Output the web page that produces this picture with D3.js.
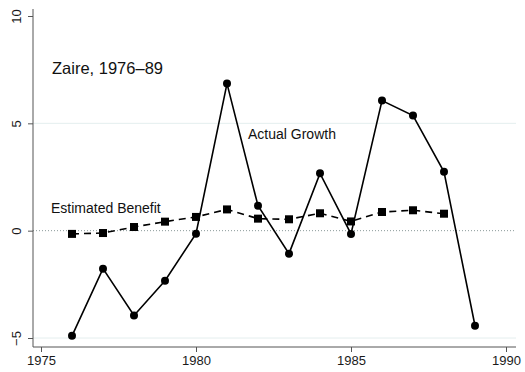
<!DOCTYPE html>
<html>
<head>
<meta charset="utf-8">
<script src="https://cdn.jsdelivr.net/npm/d3@7"></script>
<style>
  html, body { margin: 0; padding: 0; background: #fff; }
  svg { display: block; font-family: Arial, "Liberation Sans", sans-serif; }
</style>
</head>
<body>
<svg id="chart" width="525" height="372"></svg>
<script>
// Zaire: actual growth vs. estimated benefit, 1976–89
const years = [1976, 1977, 1978, 1979, 1980, 1981, 1982, 1983, 1984, 1985, 1986, 1987, 1988, 1989];
const actualGrowth = [-4.9, -1.77, -3.95, -2.33, -0.14, 6.85, 1.16, -1.07, 2.67, -0.15, 6.06, 5.36, 2.74, -4.43];
const benefitYears = [1976, 1977, 1978, 1979, 1980, 1981, 1982, 1983, 1984, 1985, 1986, 1987, 1988];
const estimatedBenefit = [-0.15, -0.11, 0.17, 0.42, 0.64, 0.99, 0.56, 0.53, 0.81, 0.43, 0.87, 0.95, 0.79];
const xTicks = [1975, 1980, 1985, 1990];
const yTicks = [-5, 0, 5, 10];
const gridValues = [-5, 5];

const svg = d3.select("#chart");

const x = d3.scaleLinear().domain([1975, 1990]).range([41, 506]);
const y = d3.scaleLinear().domain([-5, 10]).range([338, 16]);

const axisX = 33, axisY = 347, axisTop = 9, axisRight = 516;
const axisColor = "#555";

// light horizontal gridlines
svg.append("g").selectAll("line").data(gridValues).join("line")
  .attr("x1", axisX).attr("x2", axisRight)
  .attr("y1", d => y(d)).attr("y2", d => y(d))
  .attr("stroke", "#e4eeee").attr("stroke-width", 1);

// zero reference line
svg.append("line")
  .attr("x1", axisX).attr("x2", axisRight)
  .attr("y1", y(0)).attr("y2", y(0))
  .attr("stroke", "#8a9a9a").attr("stroke-width", 1)
  .attr("stroke-dasharray", "1,2");

// x axis
const gx = svg.append("g").attr("transform", `translate(0,${axisY})`)
  .call(d3.axisBottom(x).tickValues(xTicks).tickFormat(d3.format("d")).tickSize(5).tickSizeOuter(0));
gx.select(".domain").attr("d", `M${axisX},0H${axisRight}`).attr("stroke", axisColor);
gx.selectAll(".tick line").attr("stroke", axisColor);
gx.selectAll(".tick text").attr("font-size", 13).attr("fill", "#1a1a1a").attr("dy", "0.8em")
  .attr("font-family", "Arial, 'Liberation Sans', sans-serif");

// y axis
const gy = svg.append("g").attr("transform", `translate(${axisX},0)`)
  .call(d3.axisLeft(y).tickValues(yTicks).tickFormat(d => d < 0 ? "\u2212" + Math.abs(d) : d).tickSize(5).tickSizeOuter(0));
gy.select(".domain").attr("d", `M0,${axisTop}V${axisY}`).attr("stroke", axisColor);
gy.selectAll(".tick line").attr("stroke", axisColor);
gy.selectAll(".tick text")
  .attr("font-size", 13).attr("fill", "#1a1a1a")
  .attr("font-family", "Arial, 'Liberation Sans', sans-serif")
  .attr("x", null).attr("dy", null)
  .attr("text-anchor", "middle")
  .attr("transform", "translate(-12,0) rotate(-90)");

// actual growth: solid line with circles
const actual = years.map((yr, i) => [yr, actualGrowth[i]]);
svg.append("path").datum(actual)
  .attr("fill", "none").attr("stroke", "#000").attr("stroke-width", 1.6)
  .attr("d", d3.line().x(d => x(d[0])).y(d => y(d[1])));
svg.append("g").selectAll("circle").data(actual).join("circle")
  .attr("cx", d => x(d[0])).attr("cy", d => y(d[1])).attr("r", 4).attr("fill", "#000");

// estimated benefit: dashed line with squares
const benefit = benefitYears.map((yr, i) => [yr, estimatedBenefit[i]]);
svg.append("path").datum(benefit)
  .attr("fill", "none").attr("stroke", "#000").attr("stroke-width", 1.6)
  .attr("stroke-dasharray", "7,5")
  .attr("d", d3.line().x(d => x(d[0])).y(d => y(d[1])));
svg.append("g").selectAll("rect").data(benefit).join("rect")
  .attr("x", d => x(d[0]) - 4).attr("y", d => y(d[1]) - 4)
  .attr("width", 8).attr("height", 8).attr("fill", "#000");

// annotations
svg.append("text").attr("x", 52).attr("y", 74).attr("font-size", 16.5).attr("fill", "#111")
  .text("Zaire, 1976\u201389");
svg.append("text").attr("x", 51).attr("y", 213).attr("font-size", 14).attr("fill", "#111")
  .text("Estimated Benefit");
svg.append("text").attr("x", 248).attr("y", 139).attr("font-size", 14).attr("fill", "#111")
  .text("Actual Growth");
</script>
</body>
</html>
